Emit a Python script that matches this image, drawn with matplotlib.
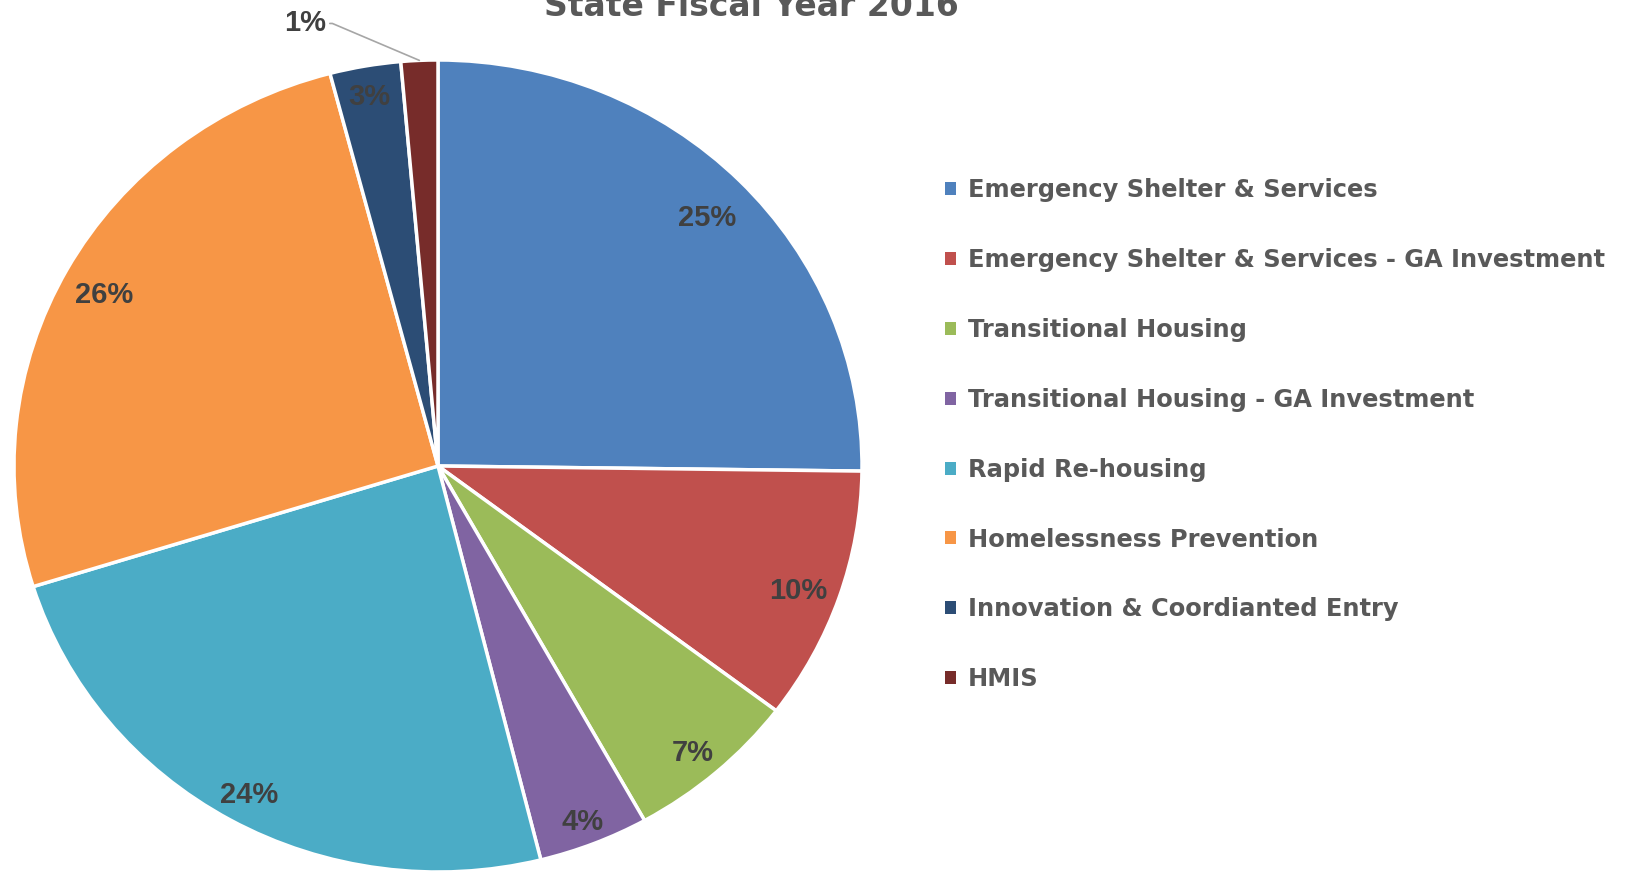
import matplotlib.pyplot as plt
import numpy as np

# values (percent of total)
categories = ["Emergency Shelter & Services",
              "Emergency Shelter & Services - GA Investment",
              "Transitional Housing",
              "Transitional Housing - GA Investment",
              "Rapid Re-housing",
              "Homelessness Prevention",
              "Innovation & Coordianted Entry",
              "HMIS"]
shares = [25.2, 10.1, 6.6, 4.2, 24.1, 25.7, 2.7, 1.4]
colors = ["#4F81BD", "#C0504D", "#9BBB59", "#8064A2",
          "#4BACC6", "#F79646", "#2C4D75", "#772C2A"]
title = "State Fiscal Year 2016"

# how far out each inside label sits (fraction of radius)
label_dist = [0.893, 0.898, 0.915, 0.925, 0.911, 0.90, 0.94, 0.9]

text_grey = "#595959"
label_grey = "#404040"

W, H = 1629, 873
fig = plt.figure(figsize=(W / 100, H / 100), dpi=100)

# pie area in pixels (the original is slightly stretched sideways)
cx, cy, rx, ry = 438, 466, 424, 406
ax = fig.add_axes([(cx - rx) / W, (H - cy - ry) / H, 2 * rx / W, 2 * ry / H])

wedges, texts, pcts = ax.pie(shares, colors=colors, startangle=90, counterclock=False,
                             autopct="%1.0f%%", pctdistance=0.9,
                             wedgeprops=dict(edgecolor="white", linewidth=2.5),
                             textprops=dict(family="Liberation Sans", fontweight="bold",
                                            fontsize=21, color=label_grey))
ax.set_aspect("auto")
ax.set_xlim(-1, 1)
ax.set_ylim(-1, 1)
ax.axis("off")

for w, t, d in zip(wedges, pcts, label_dist):
    a = np.deg2rad((w.theta1 + w.theta2) / 2)
    t.set_position((d * np.cos(a), d * np.sin(a) - 0.016))

# smallest slice gets its label outside with a leader line
w = wedges[-1]
mid = np.deg2rad((w.theta1 + w.theta2) / 2)
pcts[-1].set_visible(False)
ax.annotate(pcts[-1].get_text(), xy=(np.cos(mid), np.sin(mid)), xytext=(-0.265, 1.09),
            ha="right", va="center", family="Liberation Sans", fontweight="bold",
            fontsize=21, color=label_grey,
            arrowprops=dict(arrowstyle="-", color="#a6a6a6", lw=1.2,
                            shrinkA=1, shrinkB=0, relpos=(1, 0.5),
                            connectionstyle="angle,angleA=0,angleB=-23,rad=0"),
            annotation_clip=False)

fig.text(751 / W, (H - 16) / H, title, ha="center", va="baseline",
         family="DejaVu Sans", fontweight="bold", fontsize=23.8, color=text_grey)

leg = fig.legend(wedges, categories, loc="upper left",
                 bbox_to_anchor=(945 / W, (H - 178) / H),
                 frameon=False, prop=dict(family="DejaVu Sans", weight="bold", size=17.4),
                 labelcolor=text_grey, handlelength=0.45, handleheight=0.45,
                 handletextpad=0.5, labelspacing=1.9, borderpad=0, borderaxespad=0)
for h in leg.legend_handles:
    h.set_edgecolor("none")

fig.savefig("out.png", dpi=100)
